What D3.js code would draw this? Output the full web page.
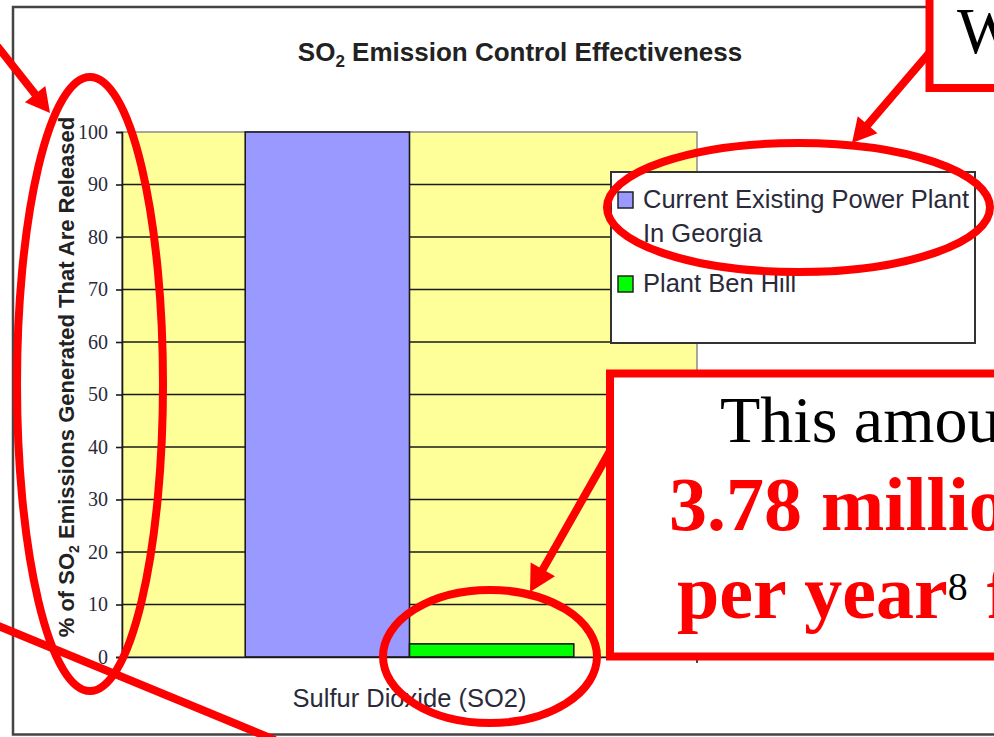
<!DOCTYPE html>
<html>
<head>
<meta charset="utf-8">
<script src="https://cdn.jsdelivr.net/npm/d3@7"></script>
<style>
  html, body { margin: 0; padding: 0; background: #fff; }
  svg { display: block; }
</style>
</head>
<body>
<svg id="chart" width="994" height="737"></svg>
<script>
// ---------- data ----------
const categories = ["Sulfur Dioxide (SO2)"];
const seriesNames = ["Current Existing Power Plant In Georgia", "Plant Ben Hill"];
const legendLines = [["Current Existing Power Plant", "In Georgia"], ["Plant Ben Hill"]];
const seriesValues = [100, 2.5];
const seriesColors = ["#9999FF", "#00FF00"];
const yTickValues = [0, 10, 20, 30, 40, 50, 60, 70, 80, 90, 100];
const titleText = ["SO", "2", " Emission Control Effectiveness"];
const yTitleText = ["% of SO", "2", " Emissions Generated That Are Released"];
const noteTopText = "W";
const noteLine1 = "This amou";
const noteLine2 = "3.78 millio";
const noteLine3 = ["per year", "8", " f"];

// ---------- layout ----------
const svg = d3.select("#chart");
const plot = { left: 122, right: 697, top: 132, bottom: 657 };
const RED = "#FF0000";
const INK = "#222";

// chart frame
svg.append("rect").attr("x", 13).attr("y", 7).attr("width", 1020).attr("height", 727.5)
  .attr("fill", "#fff").attr("stroke", "#444").attr("stroke-width", 2.5);

// title
const title = svg.append("text").attr("x", 520).attr("y", 61).attr("text-anchor", "middle")
  .attr("font-family", "Liberation Sans, Arial, sans-serif").attr("font-weight", "bold")
  .attr("font-size", 26).attr("fill", INK);
title.append("tspan").text(titleText[0]);
title.append("tspan").attr("font-size", 17).attr("dy", 6).text(titleText[1]);
title.append("tspan").attr("dy", -6).text(titleText[2]);

// scales
const y = d3.scaleLinear().domain([0, 100]).range([plot.bottom, plot.top]);
const x0 = d3.scaleBand().domain(categories).range([plot.left, plot.right]).padding(0);
const x1 = d3.scaleBand().domain(seriesNames).range([0, x0.bandwidth()])
  .paddingInner(0).paddingOuter(0.75);

// plot area
svg.append("rect").attr("x", plot.left).attr("y", plot.top)
  .attr("width", plot.right - plot.left).attr("height", plot.bottom - plot.top)
  .attr("fill", "#FFFF99").attr("stroke", "#8a8a8a").attr("stroke-width", 1.5);

// gridlines
svg.append("g").selectAll("line").data(yTickValues.filter(d => d > 0 && d < 100)).join("line")
  .attr("x1", plot.left).attr("x2", plot.right)
  .attr("y1", d => y(d)).attr("y2", d => y(d))
  .attr("stroke", "#1a1a1a").attr("stroke-width", 1.6);

// bars
const data = seriesNames.map((s, i) => ({ cat: categories[0], series: s, value: seriesValues[i], color: seriesColors[i] }));
svg.append("g").selectAll("rect").data(data).join("rect")
  .attr("x", d => x0(d.cat) + x1(d.series))
  .attr("y", d => y(d.value))
  .attr("width", x1.bandwidth())
  .attr("height", d => y(0) - y(d.value))
  .attr("fill", d => d.color)
  .attr("stroke", "#1a1a1a").attr("stroke-width", 1.6);

// y axis
const yAxis = svg.append("g").attr("transform", `translate(${plot.left},0)`)
  .call(d3.axisLeft(y).tickValues(yTickValues).tickSize(6).tickPadding(8).tickFormat(d3.format("d")));
yAxis.select(".domain").attr("stroke", "#1a1a1a").attr("stroke-width", 1.6);
yAxis.selectAll(".tick line").attr("stroke", "#1a1a1a").attr("stroke-width", 1.6);
yAxis.selectAll(".tick text").attr("font-family", "Liberation Serif, Times New Roman, serif")
  .attr("font-size", 20).attr("fill", "#2a2a3a");

// x axis
const xAxis = svg.append("g").attr("transform", `translate(0,${plot.bottom})`)
  .call(d3.axisBottom(x0).tickSize(0).tickPadding(32));
xAxis.select(".domain").attr("stroke", "#1a1a1a").attr("stroke-width", 1.6);
xAxis.selectAll(".tick text").attr("font-family", "Liberation Sans, Arial, sans-serif")
  .attr("font-size", 25.5).attr("fill", "#2a2a3a");
// category boundary ticks
svg.append("g").selectAll("line").data(categories.flatMap(c => [x0(c), x0(c) + x0.bandwidth()])).join("line")
  .attr("x1", d => d).attr("x2", d => d).attr("y1", plot.bottom).attr("y2", plot.bottom + 6)
  .attr("stroke", "#1a1a1a").attr("stroke-width", 1.6);

// y title
const yTitle = svg.append("text").attr("transform", "translate(74,377) rotate(-90)")
  .attr("text-anchor", "middle")
  .attr("font-family", "Liberation Sans, Arial, sans-serif").attr("font-weight", "bold")
  .attr("font-size", 22).attr("fill", INK);
yTitle.append("tspan").text(yTitleText[0]);
yTitle.append("tspan").attr("font-size", 14).attr("dy", 5).text(yTitleText[1]);
yTitle.append("tspan").attr("dy", -5).text(yTitleText[2]);

// legend
const legend = svg.append("g");
legend.append("rect").attr("x", 611).attr("y", 172).attr("width", 364).attr("height", 171)
  .attr("fill", "#fff").attr("stroke", "#333").attr("stroke-width", 2);
const legendRows = [{ y: 208 }, { y: 292 }];
legendLines.forEach((lines, i) => {
  const base = legendRows[i].y;
  legend.append("rect").attr("x", 618).attr("y", base - 16).attr("width", 15).attr("height", 16)
    .attr("fill", seriesColors[i]).attr("stroke", "#222").attr("stroke-width", 1.5);
  lines.forEach((t, j) => {
    legend.append("text").attr("x", 643).attr("y", base + j * 34)
      .attr("font-family", "Liberation Sans, Arial, sans-serif").attr("font-size", 25.5)
      .attr("fill", "#2a2a3a").text(t);
  });
});

// ---------- red annotations ----------
const ann = svg.append("g");
function arrow(x1, y1, tx, ty, headLen, headW) {
  const dx = tx - x1, dy = ty - y1, L = Math.hypot(dx, dy);
  const ux = dx / L, uy = dy / L;
  const bx = tx - ux * headLen, by = ty - uy * headLen;
  ann.append("line").attr("x1", x1).attr("y1", y1).attr("x2", bx + ux * 2).attr("y2", by + uy * 2)
    .attr("stroke", RED).attr("stroke-width", 8);
  const px = -uy * headW / 2, py = ux * headW / 2;
  ann.append("polygon").attr("points", `${tx},${ty} ${bx + px},${by + py} ${bx - px},${by - py}`)
    .attr("fill", RED);
}

// ellipses
ann.append("ellipse").attr("cx", 90).attr("cy", 384).attr("rx", 73).attr("ry", 307)
  .attr("fill", "none").attr("stroke", RED).attr("stroke-width", 8);
ann.append("ellipse").attr("cx", 798.5).attr("cy", 207.5).attr("rx", 191.5).attr("ry", 64.5)
  .attr("fill", "none").attr("stroke", RED).attr("stroke-width", 8);
ann.append("ellipse").attr("cx", 490).attr("cy", 656.5).attr("rx", 107).attr("ry", 66.5)
  .attr("fill", "none").attr("stroke", RED).attr("stroke-width", 8);

// lines / arrows
ann.append("line").attr("x1", -4).attr("y1", 625).attr("x2", 275).attr("y2", 740)
  .attr("stroke", RED).attr("stroke-width", 8);
arrow(-6, 42, 50, 113, 24, 26);
arrow(930, 52, 852, 143, 24, 26);
arrow(610, 451, 530, 592, 26, 28);

// top-right box
ann.append("rect").attr("x", 929.5).attr("y", -20).attr("width", 100).attr("height", 108)
  .attr("fill", "#fff").attr("stroke", RED).attr("stroke-width", 8);
ann.append("text").attr("x", 957).attr("y", 53)
  .attr("font-family", "Liberation Serif, Times New Roman, serif").attr("font-size", 65)
  .attr("fill", "#000").text(noteTopText);

// big box
ann.append("rect").attr("x", 610).attr("y", 373.5).attr("width", 420).attr("height", 283)
  .attr("fill", "#fff").attr("stroke", RED).attr("stroke-width", 8);
ann.append("text").attr("x", 720).attr("y", 442)
  .attr("font-family", "Liberation Serif, Times New Roman, serif").attr("font-size", 66)
  .attr("fill", "#000").text(noteLine1);
ann.append("text").attr("x", 669).attr("y", 530)
  .attr("font-family", "Liberation Serif, Times New Roman, serif").attr("font-size", 76)
  .attr("font-weight", "bold").attr("fill", RED).text(noteLine2);
const l3 = ann.append("text").attr("x", 677).attr("y", 618)
  .attr("font-family", "Liberation Serif, Times New Roman, serif").attr("font-size", 76)
  .attr("font-weight", "bold").attr("fill", RED);
l3.append("tspan").text(noteLine3[0]);
l3.append("tspan").attr("font-size", 40).attr("font-weight", "normal").attr("fill", "#000")
  .attr("dy", -18).text(noteLine3[1]);
l3.append("tspan").attr("dy", 18).text(noteLine3[2]);
</script>
</body>
</html>
